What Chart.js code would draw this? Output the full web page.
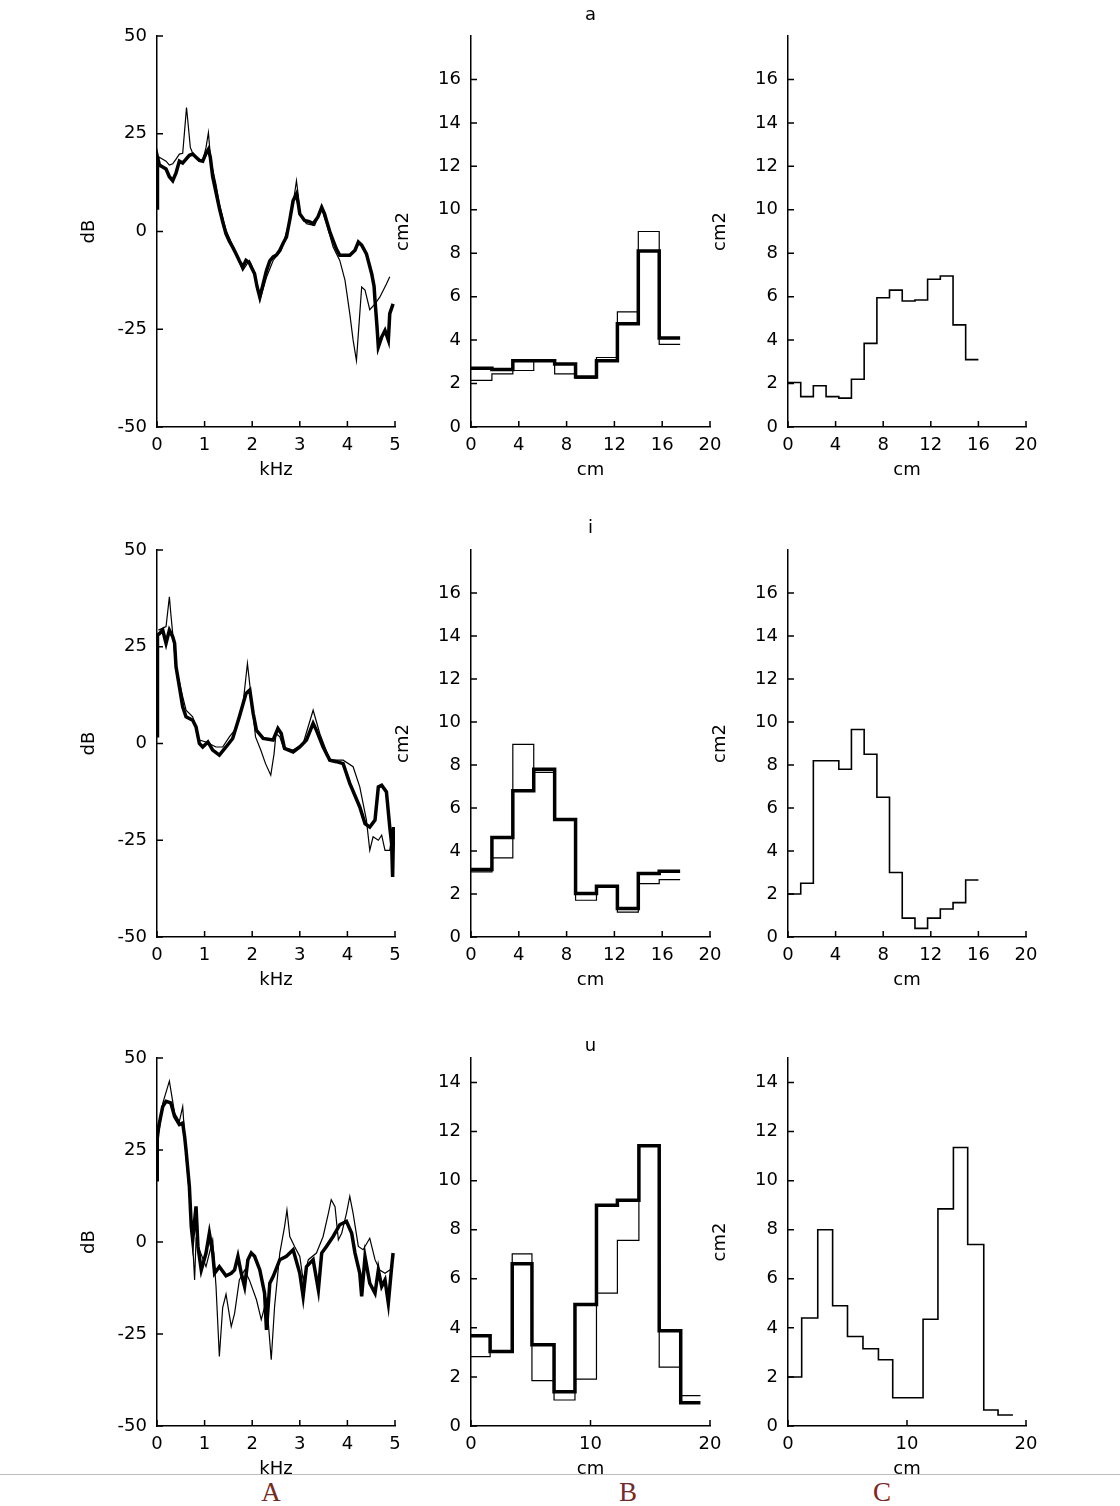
<!DOCTYPE html>
<html>
<head>
<meta charset="utf-8">
<script src="https://cdn.jsdelivr.net/npm/chart.js@4.4.0/dist/chart.umd.min.js"></script>
<style>
  body { margin: 0; background: #fff; width: 1120px; height: 1506px; position: relative; overflow: hidden; }
  canvas { position: absolute; }
  #foot { position: absolute; left: 0; top: 1474px; width: 1120px; height: 32px; background: #fff; border-top: 1px solid #bdbdbd; z-index: 10; }
  #foot span { position: absolute; top: 4px; line-height: 27px; font-family: "Liberation Serif", "DejaVu Serif", serif; font-size: 27px; color: #712b2b; transform: translateX(-50%); }
</style>
</head>
<body>
<div id="foot"><span style="left:271px">A</span><span style="left:628px">B</span><span style="left:882px">C</span></div>
<script>
// spectra (kHz, dB), thick and thin
const aThick = [[0,6],[0.01,19],[0.05,17],[0.12,16.5],[0.19,16],[0.26,14],[0.33,13],[0.4,15],[0.47,18],[0.54,17.5],[0.61,18.5],[0.68,19.5],[0.75,19.8],[0.82,19],[0.89,18.2],[0.96,18],[1.03,20],[1.08,21],[1.12,19],[1.17,14],[1.24,10],[1.31,6],[1.38,2.5],[1.45,-0.6],[1.52,-2.5],[1.59,-4],[1.66,-5.7],[1.73,-7.5],[1.8,-9.1],[1.87,-7.4],[1.94,-8],[1.98,-9.1],[2.05,-10.8],[2.1,-14],[2.16,-16.8],[2.23,-13.4],[2.3,-10],[2.37,-7.5],[2.44,-6.5],[2.51,-6],[2.58,-4.8],[2.65,-3],[2.72,-1.4],[2.79,3],[2.86,7.9],[2.93,9.6],[2.97,7],[3.0,4.5],[3.1,2.8],[3.2,2.5],[3.28,2.0],[3.38,3.7],[3.46,6.2],[3.52,4.5],[3.56,2.8],[3.63,0],[3.7,-2.3],[3.77,-4.5],[3.84,-6.1],[3.95,-6.1],[4.05,-6.1],[4.16,-4.8],[4.23,-2.7],[4.3,-3.5],[4.4,-5.7],[4.51,-10.8],[4.56,-14],[4.58,-17.6],[4.62,-24],[4.65,-29.5],[4.72,-27],[4.79,-25.3],[4.86,-27.8],[4.89,-21],[4.96,-18.5]];
const aThin = [[0,18],[0.05,19],[0.12,18.5],[0.19,18],[0.26,17],[0.33,17.3],[0.4,18.5],[0.47,19.8],[0.54,20],[0.58,25.8],[0.62,31.7],[0.65,28],[0.7,21.5],[0.75,20],[0.82,19],[0.89,18.5],[0.96,18],[1.03,21.5],[1.08,25.3],[1.13,18.1],[1.24,12],[1.31,7],[1.45,0.3],[1.59,-3.6],[1.7,-7],[1.8,-10],[1.94,-7.4],[2.05,-10.4],[2.16,-17.6],[2.3,-11.7],[2.44,-7.4],[2.61,-4.8],[2.79,2.8],[2.87,8],[2.93,13],[2.97,9],[3.0,4.5],[3.14,2.0],[3.31,1.5],[3.46,5.8],[3.56,2.0],[3.7,-4],[3.84,-7.4],[3.95,-12.5],[4.05,-21],[4.12,-27.8],[4.19,-33],[4.26,-21],[4.3,-14.2],[4.37,-15],[4.47,-20],[4.58,-18.5],[4.68,-16.8],[4.82,-13.4],[4.89,-11.6]];
const iThick = [[0,2],[0.01,28],[0.05,28.4],[0.12,29.3],[0.19,25.9],[0.26,29.3],[0.33,27.6],[0.37,25.9],[0.4,19.8],[0.47,14.7],[0.54,9.5],[0.61,6.9],[0.75,6],[0.82,4.3],[0.89,0],[0.96,-0.9],[1.07,0.4],[1.17,-1.7],[1.31,-3],[1.45,-0.9],[1.59,1.3],[1.73,6.9],[1.87,12.9],[1.95,13.8],[2.02,7.8],[2.09,3.4],[2.23,1.3],[2.44,0.9],[2.54,3.9],[2.61,2.6],[2.68,-1.3],[2.86,-2.2],[3.0,-0.9],[3.14,0.9],[3.28,5.2],[3.35,3.4],[3.49,-0.9],[3.63,-4.3],[3.77,-4.7],[3.91,-5.2],[4.05,-10.3],[4.26,-16.4],[4.37,-20.7],[4.47,-21.6],[4.58,-19.8],[4.65,-11.2],[4.72,-10.8],[4.82,-12.5],[4.89,-21.6],[4.93,-26],[4.95,-34.5],[4.97,-21.6]];
const iThin = [[0.03,29.3],[0.19,30.2],[0.26,37.9],[0.29,33.6],[0.33,28.4],[0.4,19.8],[0.54,12.1],[0.61,8.6],[0.75,6.9],[0.89,0.9],[1.03,0.4],[1.24,-0.9],[1.38,-0.9],[1.52,1.7],[1.66,3.9],[1.8,9.5],[1.9,20.7],[1.97,12.9],[2.07,1.7],[2.18,-1.7],[2.28,-5.2],[2.39,-8.2],[2.46,-2.6],[2.5,2.6],[2.58,1.7],[2.65,-0.9],[2.86,-1.7],[3.07,0],[3.28,8.6],[3.42,2.6],[3.63,-4.3],[3.91,-4.3],[4.12,-6],[4.26,-11.2],[4.4,-19.8],[4.47,-27.6],[4.54,-24.1],[4.65,-25],[4.72,-23.7],[4.79,-27.6],[4.89,-27.6],[4.96,-21.6]];
const uThick = [[0,16.9],[0.005,29.6],[0.05,32.3],[0.12,36.8],[0.19,38.2],[0.29,37.8],[0.37,34.1],[0.47,31.9],[0.54,32.3],[0.58,28.7],[0.61,25],[0.68,15.1],[0.72,4.2],[0.75,0.6],[0.82,9.7],[0.86,-1.2],[0.93,-7.6],[1.03,-3],[1.1,2.4],[1.17,-3],[1.21,-8.5],[1.31,-6.7],[1.45,-9.2],[1.56,-8.5],[1.63,-7.6],[1.7,-3.9],[1.77,-8.5],[1.84,-12.1],[1.91,-4.8],[1.98,-3],[2.05,-3.9],[2.16,-7.6],[2.26,-13.9],[2.3,-23.9],[2.37,-11.2],[2.44,-9.4],[2.58,-4.8],[2.72,-3.9],[2.86,-2.1],[3.0,-8.5],[3.07,-14.8],[3.14,-6.7],[3.28,-4.8],[3.39,-13],[3.46,-3],[3.56,-1.2],[3.7,1.5],[3.84,4.7],[3.98,5.6],[4.09,2.4],[4.16,-3],[4.26,-8.5],[4.3,-14.8],[4.37,-4],[4.47,-11.2],[4.58,-13.9],[4.65,-7.6],[4.72,-12.1],[4.79,-10.3],[4.86,-16.6],[4.93,-6.7],[4.96,-3]];
const uThin = [[0,25],[0.12,37.7],[0.26,43.7],[0.37,35],[0.47,32.8],[0.54,36.8],[0.61,23.3],[0.72,7],[0.79,-10.3],[0.82,0.6],[0.89,-2.1],[1.03,-6.7],[1.17,0.6],[1.24,-12.1],[1.31,-31.1],[1.38,-17.8],[1.45,-14.2],[1.56,-23],[1.63,-19.4],[1.73,-10.3],[1.84,-7.6],[1.94,-10.3],[2.09,-15.7],[2.19,-21.1],[2.3,-15.7],[2.4,-32],[2.47,-17.6],[2.58,-3],[2.68,4.2],[2.73,8.7],[2.79,1.5],[2.89,-1.2],[3.0,-3.9],[3.07,-10.3],[3.18,-4.8],[3.35,-3],[3.49,1.5],[3.6,7.8],[3.66,11.5],[3.74,9.6],[3.81,0.6],[3.88,2.4],[3.98,7.8],[4.05,12.4],[4.12,7.8],[4.23,-1.2],[4.33,-2.1],[4.47,1],[4.58,-4.8],[4.68,-7.6],[4.79,-8.5],[4.89,-7.6],[4.96,-6.7]];

// area functions (cm, cm2): section edges and one area per section
const abEdges = [0, 1.75, 3.5, 5.25, 7.0, 8.75, 10.5, 12.25, 14.0, 15.75, 17.5];
const aBThick = [2.7, 2.65, 3.05, 3.05, 2.9, 2.3, 3.05, 4.75, 8.1, 4.1];
const aBThin = [2.15, 2.45, 2.6, 3.05, 2.45, 2.25, 3.2, 5.3, 9.0, 3.8];
const iBThick = [3.14, 4.63, 6.8, 7.8, 5.47, 2.02, 2.36, 1.32, 2.95, 3.06];
const iBThin = [3.03, 3.68, 8.96, 7.66, 5.47, 1.71, 2.36, 1.16, 2.48, 2.67];
const uBEdges = [0, 1.6, 3.45, 5.1, 6.95, 8.7, 10.5, 12.25, 14.05, 15.75, 17.55, 19.2];
const uBThick = [3.68, 3.04, 6.61, 3.31, 1.4, 4.95, 9.0, 9.2, 11.42, 3.88, 0.95];
const uBThin = [2.83, 3.04, 7.02, 1.85, 1.06, 1.91, 5.42, 7.57, 11.42, 2.4, 1.24];

const acEdges = [0, 1.07, 2.13, 3.2, 4.27, 5.33, 6.4, 7.47, 8.53, 9.6, 10.67, 11.73, 12.8, 13.87, 14.93, 16.0];
const aC = [2.05, 1.4, 1.9, 1.4, 1.33, 2.2, 3.85, 5.95, 6.3, 5.8, 5.85, 6.8, 6.95, 4.7, 3.1];
const iC = [2.0, 2.5, 8.2, 8.2, 7.8, 9.65, 8.5, 6.5, 3.0, 0.88, 0.4, 0.88, 1.3, 1.6, 2.65];
const uCEdges = [0, 1.15, 2.5, 3.75, 5.0, 6.3, 7.6, 8.8, 10.1, 11.35, 12.6, 13.9, 15.1, 16.45, 17.65, 18.9];
const uC = [2.0, 4.4, 8.0, 4.9, 3.65, 3.15, 2.7, 1.15, 1.15, 4.35, 8.85, 11.35, 7.4, 0.65, 0.45];

const vowels = ['a', 'i', 'u'];

// layout of the 3x3 grid (plot area edges in page pixels)
const ROWS = [[36, 427, 21], [550, 937, 22], [1058, 1426, 12]];
const COLS = [[157, 395], [471, 710], [788, 1026]];
const ML = 96, MT = 34, MR = 24, MB = 58;

Chart.defaults.font.family = "'DejaVu Sans', sans-serif";
Chart.defaults.font.size = 18;
Chart.defaults.color = '#000';

// matlab style ticks pointing into the axes, plus the vowel title
const innerTicks = {
  id: 'innerTicks',
  afterDraw(chart, args, opts) {
    const { ctx, chartArea: a, scales } = chart;
    ctx.save();
    ctx.strokeStyle = '#000';
    ctx.lineWidth = 1.5;
    ctx.beginPath();
    scales.x.ticks.forEach(t => {
      const p = scales.x.getPixelForValue(t.value);
      ctx.moveTo(p, a.bottom); ctx.lineTo(p, a.bottom - 6);
    });
    scales.y.ticks.forEach(t => {
      const p = scales.y.getPixelForValue(t.value);
      ctx.moveTo(a.left, p); ctx.lineTo(a.left + 6, p);
    });
    ctx.stroke();
    if (opts.title) {
      ctx.font = "18px 'DejaVu Sans'";
      ctx.fillStyle = '#000';
      ctx.textAlign = 'center';
      ctx.textBaseline = 'middle';
      ctx.fillText(opts.title, (a.left + a.right) / 2, a.top - opts.gap);
    }
    ctx.restore();
  }
};

const pts = pairs => pairs.map(p => ({ x: p[0], y: p[1] }));
const steps = (edges, vals) => edges.map((x, i) => ({ x, y: vals[Math.min(i, vals.length - 1)] }));

function panel(row, col, cfg) {
  const [top, bottom, gap] = ROWS[row], [left, right] = COLS[col];
  const w = right - left + ML + MR, h = bottom - top + MT + MB;
  const cv = document.createElement('canvas');
  cv.width = w; cv.height = h;
  cv.style.cssText = `left:${left - ML}px;top:${top - MT}px;width:${w}px;height:${h}px`;
  document.body.appendChild(cv);

  new Chart(cv, {
    type: 'line',
    data: {
      datasets: cfg.sets.map(s => ({
        data: s.data,
        borderColor: '#000',
        borderWidth: s.w,
        pointRadius: 0,
        fill: false,
        tension: 0,
        stepped: cfg.stepped ? 'before' : false
      }))
    },
    options: {
      responsive: false,
      animation: false,
      events: [],
      layout: { padding: { top: MT, right: MR, left: 0, bottom: 0 } },
      plugins: {
        legend: { display: false },
        tooltip: { enabled: false },
        innerTicks: { title: cfg.title, gap }
      },
      scales: {
        x: {
          type: 'linear', min: 0, max: cfg.xMax,
          grid: { display: false, drawTicks: false },
          border: { color: '#000', width: 1.5 },
          ticks: { stepSize: cfg.xStep, padding: 8, maxRotation: 0, autoSkip: false },
          title: { display: true, text: cfg.xTitle, padding: { top: 0, bottom: 4 } },
          afterFit: s => { s.height = MB; }
        },
        y: {
          type: 'linear', min: cfg.yMin, max: cfg.yMax,
          grid: { display: false, drawTicks: false },
          border: { color: '#000', width: 1.5 },
          ticks: { stepSize: cfg.yStep, padding: 10, autoSkip: false },
          afterBuildTicks: s => { s.ticks = s.ticks.filter(t => t.value <= cfg.yTop); },
          title: { display: !!cfg.yTitle, text: cfg.yTitle || '', padding: { top: 18, bottom: 0 } },
          afterFit: s => { s.width = ML; }
        }
      }
    },
    plugins: [innerTicks]
  });
}

const spectra = [[aThick, aThin], [iThick, iThin], [uThick, uThin]];
const tubes = [[abEdges, aBThick, aBThin], [abEdges, iBThick, iBThin], [uBEdges, uBThick, uBThin]];
const areas = [[acEdges, aC], [acEdges, iC], [uCEdges, uC]];

for (let r = 0; r < 3; r++) {
  const tall = r < 2;
  panel(r, 0, {
    sets: [{ data: pts(spectra[r][0]), w: 3.5 }, { data: pts(spectra[r][1]), w: 1.2 }],
    xMax: 5, xStep: 1, xTitle: 'kHz',
    yMin: -50, yMax: 50, yStep: 25, yTop: 50, yTitle: 'dB'
  });
  panel(r, 1, {
    stepped: true, title: vowels[r],
    sets: [{ data: steps(tubes[r][0], tubes[r][1]), w: 3.5 }, { data: steps(tubes[r][0], tubes[r][2]), w: 1.2 }],
    xMax: 20, xStep: tall ? 4 : 10, xTitle: 'cm',
    yMin: 0, yMax: tall ? 18 : 15, yStep: 2, yTop: tall ? 16 : 14, yTitle: tall ? 'cm2' : ''
  });
  panel(r, 2, {
    stepped: true,
    sets: [{ data: steps(areas[r][0], areas[r][1]), w: 1.6 }],
    xMax: 20, xStep: tall ? 4 : 10, xTitle: 'cm',
    yMin: 0, yMax: tall ? 18 : 15, yStep: 2, yTop: tall ? 16 : 14, yTitle: 'cm2'
  });
}
</script>
</body>
</html>
